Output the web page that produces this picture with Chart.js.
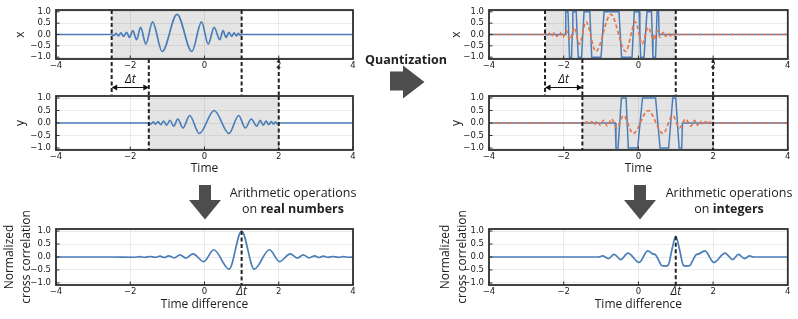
<!DOCTYPE html>
<html lang="en">
<head>
<meta charset="utf-8">
<title>Cross correlation on real numbers and integers</title>
<script src="https://cdn.jsdelivr.net/npm/chart.js@4.4.1/dist/chart.umd.min.js"></script>
<style>
  html, body { margin: 0; padding: 0; background: #fff; }
  body { position: relative; width: 798px; height: 319px; overflow: hidden; font-family: 'Open Sans', sans-serif; color: #222; }
  canvas { position: absolute; z-index: 1; }
  .label { position: absolute; z-index: 2; text-align: center; font-size: 12.5px; line-height: 16.5px; white-space: nowrap; }
  #shapes { position: absolute; left: 0; top: 0; z-index: 2; }
</style>
</head>
<body>
<svg id="shapes" width="798" height="319">
  <polygon fill="#4d4d4d" points="390,71.5 403,71.5 403,65.5 424.5,82 403,98.5 403,90.5 390,90.5"/>
  <polygon fill="#4d4d4d" points="199,185 211,185 211,200 221,200 205,219.5 189,200 199,200"/>
  <polygon fill="#4d4d4d" points="634,185 646,185 646,200 656,200 640,219.5 624,200 634,200"/>
</svg>
<div class="label" style="left:346px;top:52px;width:120px;font-weight:700;">Quantization</div>
<div class="label" style="left:213px;top:184.5px;width:160px;">Arithmetic operations<br>on <b>real numbers</b></div>
<div class="label" style="left:649px;top:184.5px;width:160px;">Arithmetic operations<br>on <b>integers</b></div>

<script>
// ===== DATA =====
const TIME_TICKS = [-4, -2, 0, 2, 4];
const LEVEL_TICKS = [-1, -0.5, 0, 0.5, 1];
const DELTA_T = 1;
const X_WINDOW = [-2.5, 1];
const Y_WINDOW = [-1.5, 2];

// x(t), read at its turning points
const xTime = [-4, -2.5, -2.44, -2.38, -2.32, -2.25, -2.18, -2.10, -2.02, -1.93, -1.83, -1.72, -1.58, -1.40, -1.14,
  -0.74, -0.34, -0.08, 0.10, 0.26, 0.41, 0.50, 0.58, 0.66, 0.73, 0.80, 0.86, 0.91, 0.96, 1.0, 4];
const xValue = [0, 0, -0.04, 0.05, -0.06, 0.07, -0.08, 0.10, -0.13, 0.17, -0.23, 0.31, -0.42, 0.56, -0.75,
  0.89, -0.75, 0.56, -0.42, 0.31, -0.23, 0.17, -0.13, 0.10, -0.08, 0.07, -0.06, 0.05, -0.04, 0, 0];

// y(t), the delayed copy
const yTime = [-4, -1.5, -1.44, -1.38, -1.32, -1.25, -1.18, -1.10, -1.02, -0.93, -0.83, -0.72, -0.58, -0.40, -0.14,
  0.26, 0.66, 0.92, 1.10, 1.26, 1.41, 1.50, 1.58, 1.66, 1.73, 1.80, 1.86, 1.91, 1.96, 2.0, 4];
const yValue = [0, 0, -0.04, 0.05, -0.05, 0.06, -0.07, 0.08, -0.09, 0.11, -0.13, 0.16, -0.20, 0.30, -0.42,
  0.50, -0.42, 0.30, -0.20, 0.16, -0.13, 0.11, -0.09, 0.08, -0.07, 0.06, -0.05, 0.05, -0.04, 0, 0];

// quantized x (levels -1, 0, 1)
const qxTime = [-4, -1.96, -1.945, -1.885, -1.865, -1.845, -1.79, -1.772, -1.755, -1.665, -1.64, -1.61, -1.52, -1.49,
  -1.455, -1.30, -1.275, -1.25, -1.00, -0.96, -0.92, -0.52, -0.485, -0.45, -0.17, -0.14, -0.11, 0.02, 0.04, 0.06,
  0.15, 0.19, 0.23, 0.35, 0.37, 0.39, 0.46, 0.48, 0.50, 0.54, 0.555, 4];
const qxValue = [0, 0, 1, 1, 0, -1, -1, 0, 1, 1, 0, -1, -1, 0,
  1, 1, 0, -1, -1, 0, 1, 1, 0, -1, -1, 0, 1, 1, 0, -1,
  -1, 0, 1, 1, 0, -1, -1, 0, 1, 1, 0, 0];

// quantized y
const qyTime = [-4, -0.62, -0.60, -0.545, -0.50, -0.455, -0.33, -0.30, -0.27, -0.02, 0.045, 0.11, 0.46, 0.52,
  0.58, 0.81, 0.865, 0.92, 1.0, 1.045, 1.09, 1.16, 1.18, 4];
const qyValue = [0, 0, -1, -1, 0, 1, 1, 0, -1, -1, 0, 1, 1, 0,
  -1, -1, 0, 1, 1, 0, -1, -1, 0, 0];

// normalized cross correlation, real numbers
const crTime = [-4, -2.5, -1.90, -1.75, -1.60, -1.46, -1.33, -1.20, -1.08, -0.97, -0.82, -0.66, -0.50, -0.31, -0.02,
  0.25, 0.66, 1.0, 1.34, 1.75, 2.02, 2.31, 2.50, 2.66, 2.82, 2.97, 3.08, 3.20, 3.33, 3.46, 3.60, 3.75, 3.90, 4];
const crValue = [0, 0, -0.01, 0.012, -0.012, 0.02, -0.015, 0.03, -0.02, 0.045, -0.03, 0.08, -0.04, 0.12, -0.18,
  0.28, -0.47, 1.0, -0.47, 0.28, -0.18, 0.12, -0.04, 0.08, -0.03, 0.045, -0.02, 0.03, -0.015, 0.02, -0.012, 0.012, -0.01, 0];

// normalized cross correlation, integers
const ciTime = [-4, -1.07, -0.96, -0.80, -0.65, -0.47, -0.28, 0.02, 0.25, 0.38, 0.46, 0.55, 0.62, 0.72, 0.80, 0.90,
  1.0, 1.10, 1.20, 1.28, 1.38, 1.45, 1.54, 1.62, 1.78, 2.02, 2.32, 2.52, 2.68, 2.84, 2.98, 3.08, 4];
const ciValue = [0, 0, 0.04, -0.06, 0.10, -0.10, 0.15, -0.21, 0.24, 0.12, 0.08, -0.15, -0.33, -0.35, -0.31, 0.30,
  0.80, 0.30, -0.31, -0.35, -0.33, -0.15, 0.08, 0.12, 0.24, -0.21, 0.15, -0.10, 0.10, -0.06, 0.04, 0, 0];

// ===== STYLE =====
const BLUE = '#4a7db7';
const ORANGE = '#e3764a';
const GRID = 'rgba(0,0,0,0.08)';
const SHADE = 'rgba(0,0,0,0.105)';
const INK = '#222';
const FRAME = '#2e2e2e';
const TICK_FONT = { family: 'DejaVu Sans', size: 8.5, lineHeight: '10px' };
const LAG_FONT = { family: 'Open Sans', size: 12, style: 'italic', lineHeight: '10px' };
const TITLE_FONT = { family: 'Open Sans', size: 12, lineHeight: 1.2 };
const CORR_TITLE_FONT = { family: 'Open Sans', size: 12, lineHeight: 1.4 };

const COLS = {
  left: { left: 0, w: 372, yw: 56, padRight: 19, titlePad: 13.5, corrPad: 1.6 },
  right: { left: 430, w: 362, yw: 59, padRight: 4, titlePad: 19.5, corrPad: 7.4 }
};
const ROWS = {
  top: { top: 0, h: 96, padTop: 5, xh: 37 },
  mid: { top: 86, h: 90, padTop: 9, xh: 26 },
  bottom: { top: 200, h: 119, padTop: 29, xh: 34 }
};

// ===== HELPERS =====
const series = (t, v, extra) => Object.assign({
  data: t.map((x, i) => ({ x, y: v[i] })),
  borderColor: BLUE,
  borderWidth: 1.7,
  pointRadius: 0,
  fill: false,
  cubicInterpolationMode: 'monotone'
}, extra);

const stepped = (t, v) => series(t, v, { cubicInterpolationMode: 'default', tension: 0, borderWidth: 1.5 });
const dashed = (t, v) => series(t, v, { borderColor: ORANGE, borderDash: [4, 2.5], borderWidth: 1.7 });

const fmtTime = v => v === DELTA_T ? 'Δt' : (v < 0 ? '−' + Math.abs(v) : String(v));
const fmtLevel = v => (v < 0 ? '−' : '') + Math.abs(v).toFixed(1);
const valueAt = (t, v, at) => v[t.indexOf(at)];

// shading, frame, ticks and the dashed markers
const panelDecor = {
  id: 'panelDecor',
  beforeDatasetsDraw(chart, args, opts) {
    if (!opts.shade) return;
    const { ctx, chartArea: a, scales: { x } } = chart;
    const x0 = x.getPixelForValue(opts.shade[0]);
    const x1 = x.getPixelForValue(opts.shade[1]);
    ctx.save();
    ctx.fillStyle = SHADE;
    ctx.fillRect(x0, a.top, x1 - x0, a.bottom - a.top);
    ctx.restore();
  },
  afterDatasetsDraw(chart, args, opts) {
    const { ctx, chartArea: a, scales: { x, y } } = chart;
    ctx.save();
    ctx.strokeStyle = FRAME;
    ctx.lineWidth = 1.8;
    ctx.strokeRect(a.left, a.top, a.right - a.left, a.bottom - a.top);

    ctx.lineWidth = 1;
    ctx.beginPath();
    TIME_TICKS.forEach(v => {
      const px = x.getPixelForValue(v);
      ctx.moveTo(px, a.bottom);
      ctx.lineTo(px, a.bottom - 3.5);
    });
    LEVEL_TICKS.forEach(v => {
      const py = y.getPixelForValue(v);
      ctx.moveTo(a.left, py);
      ctx.lineTo(a.left + 3.5, py);
    });
    ctx.stroke();

    ctx.strokeStyle = INK;
    ctx.lineWidth = 2;
    ctx.setLineDash([4, 2.5]);
    (opts.marks || []).forEach(m => {
      const px = x.getPixelForValue(m.t);
      const y0 = m.from === 'top' ? a.top : m.from === 'bottom' ? a.bottom : y.getPixelForValue(m.from);
      const y1 = m.to === 'gap' ? chart.height - 1 : a.bottom;
      ctx.beginPath();
      ctx.moveTo(px, y0);
      ctx.lineTo(px, y1);
      ctx.stroke();
    });
    ctx.setLineDash([]);

    if (opts.lag) {
      const xa = x.getPixelForValue(X_WINDOW[0]);
      const xb = x.getPixelForValue(Y_WINDOW[0]);
      const ya = chart.height - 8.5;
      ctx.strokeStyle = '#111';
      ctx.fillStyle = '#111';
      ctx.lineWidth = 1.2;
      ctx.beginPath();
      ctx.moveTo(xa + 2, ya);
      ctx.lineTo(xb - 2, ya);
      ctx.stroke();
      ctx.beginPath();
      ctx.moveTo(xa, ya); ctx.lineTo(xa + 5.5, ya - 3); ctx.lineTo(xa + 5.5, ya + 3); ctx.closePath();
      ctx.moveTo(xb, ya); ctx.lineTo(xb - 5.5, ya - 3); ctx.lineTo(xb - 5.5, ya + 3); ctx.closePath();
      ctx.fill();
      ctx.font = 'italic 12px "Open Sans"';
      ctx.textAlign = 'center';
      ctx.textBaseline = 'middle';
      ctx.fillText('Δt', (xa + xb) / 2, chart.height - 16);
    }
    ctx.restore();
  }
};

function createPanel(p) {
  const col = COLS[p.col];
  const row = ROWS[p.row];
  const canvas = document.createElement('canvas');
  canvas.width = col.w;
  canvas.height = row.h;
  canvas.style.left = col.left + 'px';
  canvas.style.top = row.top + 'px';
  document.body.appendChild(canvas);

  const isCorr = p.row === 'bottom';
  const xTicks = isCorr ? [...TIME_TICKS, DELTA_T].sort((a, b) => a - b) : TIME_TICKS;
  const isLagTick = c => isCorr && c.tick && c.tick.value === DELTA_T;

  return new Chart(canvas, {
    type: 'line',
    data: { datasets: p.datasets },
    options: {
      responsive: false,
      animation: false,
      devicePixelRatio: 1,
      layout: { padding: { left: 0, top: row.padTop, right: col.padRight, bottom: 0 } },
      plugins: { legend: { display: false }, tooltip: { enabled: false }, panelDecor: p.decor },
      scales: {
        x: {
          type: 'linear',
          min: -4,
          max: 4,
          afterBuildTicks: s => { s.ticks = xTicks.map(v => ({ value: v })); },
          afterFit: s => { s.height = row.xh; },
          grid: { drawTicks: false, color: c => isLagTick(c) ? 'rgba(0,0,0,0)' : GRID },
          border: { display: false },
          ticks: {
            autoSkip: false, maxRotation: 0, minRotation: 0, padding: 1.5, color: INK,
            font: c => isLagTick(c) ? LAG_FONT : TICK_FONT,
            callback: v => fmtTime(v)
          },
          title: p.xTitle
            ? { display: true, text: p.xTitle, font: TITLE_FONT, color: INK, padding: { top: 0, bottom: p.xTitlePad } }
            : { display: false }
        },
        y: {
          type: 'linear',
          min: -1.08,
          max: 1.08,
          afterBuildTicks: s => { s.ticks = LEVEL_TICKS.map(v => ({ value: v })); },
          afterFit: s => { s.width = col.yw; },
          grid: { drawTicks: false, color: GRID },
          border: { display: false },
          ticks: { autoSkip: false, padding: 5, color: INK, font: TICK_FONT, callback: v => fmtLevel(v) },
          title: {
            display: true,
            text: p.yTitle,
            font: isCorr ? CORR_TITLE_FONT : TITLE_FONT,
            color: INK,
            padding: { top: isCorr ? col.corrPad : col.titlePad, bottom: 0 }
          }
        }
      }
    },
    plugins: [panelDecor]
  });
}

// ===== PANELS =====
const topMarks = [
  { t: X_WINDOW[0], from: 'top', to: 'gap' },
  { t: X_WINDOW[1], from: 'top', to: 'gap' },
  { t: Y_WINDOW[0], from: 'bottom', to: 'gap' },
  { t: Y_WINDOW[1], from: 'bottom', to: 'gap' }
];
const midMarks = [
  { t: Y_WINDOW[0], from: 'top', to: 'bottom' },
  { t: Y_WINDOW[1], from: 'top', to: 'bottom' }
];
const CORR_TITLE = ['Normalized', 'cross correlation'];

[
  { col: 'left', row: 'top', yTitle: 'x', datasets: [series(xTime, xValue)],
    decor: { shade: X_WINDOW, marks: topMarks, lag: true } },
  { col: 'left', row: 'mid', yTitle: 'y', xTitle: 'Time', xTitlePad: 0, datasets: [series(yTime, yValue)],
    decor: { shade: Y_WINDOW, marks: midMarks } },
  { col: 'left', row: 'bottom', yTitle: CORR_TITLE, xTitle: 'Time difference', xTitlePad: 7,
    datasets: [series(crTime, crValue)],
    decor: { marks: [{ t: DELTA_T, from: valueAt(crTime, crValue, DELTA_T), to: 'bottom' }] } },
  { col: 'right', row: 'top', yTitle: 'x', datasets: [dashed(xTime, xValue), stepped(qxTime, qxValue)],
    decor: { shade: X_WINDOW, marks: topMarks, lag: true } },
  { col: 'right', row: 'mid', yTitle: 'y', xTitle: 'Time', xTitlePad: 0,
    datasets: [dashed(yTime, yValue), stepped(qyTime, qyValue)],
    decor: { shade: Y_WINDOW, marks: midMarks } },
  { col: 'right', row: 'bottom', yTitle: CORR_TITLE, xTitle: 'Time difference', xTitlePad: 7,
    datasets: [series(ciTime, ciValue)],
    decor: { marks: [{ t: DELTA_T, from: valueAt(ciTime, ciValue, DELTA_T), to: 'bottom' }] } }
].forEach(createPanel);
</script>
</body>
</html>
